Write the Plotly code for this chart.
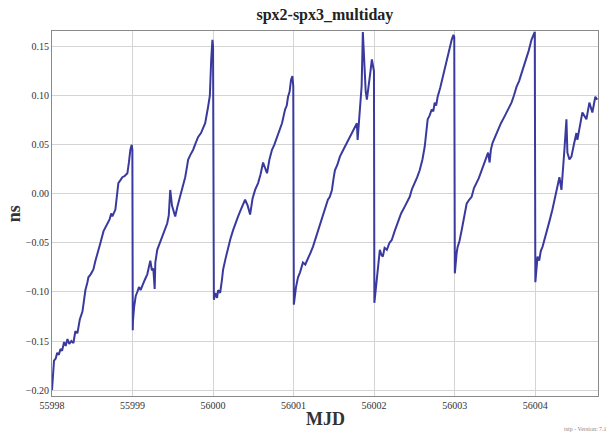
import plotly.graph_objects as go

# MJD and ns values
mjd = [
    55998.000, 55998.010, 55998.025, 55998.045, 55998.065, 55998.085, 55998.105, 55998.125,
    55998.150, 55998.170, 55998.192, 55998.215, 55998.240, 55998.266, 55998.290, 55998.316,
    55998.345, 55998.378, 55998.400, 55998.415, 55998.440, 55998.452, 55998.480, 55998.514,
    55998.540, 55998.570, 55998.601, 55998.640, 55998.688, 55998.715, 55998.735, 55998.750,
    55998.787, 55998.805, 55998.824, 55998.850, 55998.874, 55998.900, 55998.936, 55998.955,
    55998.973, 55998.990, 55998.998, 55999.003,
    55999.005, 55999.020, 55999.040, 55999.059, 55999.080, 55999.100, 55999.121, 55999.150,
    55999.183, 55999.205, 55999.221, 55999.240, 55999.258, 55999.275, 55999.283, 55999.307,
    55999.340, 55999.369, 55999.400, 55999.431, 55999.450, 55999.468, 55999.490, 55999.530,
    55999.560, 55999.592, 55999.625, 55999.654, 55999.675, 55999.691, 55999.720, 55999.753,
    55999.785, 55999.815, 55999.850, 55999.880, 55999.902, 55999.939, 55999.960, 55999.977,
    55999.992, 56000.000, 56000.004,
    56000.010, 56000.030, 56000.050, 56000.063, 56000.088, 56000.110, 56000.125, 56000.155,
    56000.187, 56000.215, 56000.249, 56000.280, 56000.311, 56000.350, 56000.380, 56000.398,
    56000.430, 56000.460, 56000.490, 56000.522, 56000.559, 56000.590, 56000.621, 56000.645,
    56000.670, 56000.700, 56000.732, 56000.760, 56000.794, 56000.825, 56000.856, 56000.894,
    56000.915, 56000.931, 56000.950, 56000.968, 56000.985, 56000.996, 56001.003,
    56001.010, 56001.030, 56001.055, 56001.080, 56001.116, 56001.145, 56001.178, 56001.210,
    56001.240, 56001.270, 56001.302, 56001.330, 56001.364, 56001.395, 56001.426, 56001.450,
    56001.476, 56001.495, 56001.513, 56001.545, 56001.575, 56001.605, 56001.637, 56001.680,
    56001.724, 56001.755, 56001.786, 56001.795, 56001.810, 56001.823, 56001.845, 56001.860,
    56001.875, 56001.895, 56001.910, 56001.935, 56001.955, 56001.972, 56001.985, 56001.998,
    56002.003,
    56002.010, 56002.020, 56002.034, 56002.050, 56002.071, 56002.090, 56002.108, 56002.130,
    56002.158, 56002.190, 56002.219, 56002.255, 56002.294, 56002.335, 56002.380, 56002.410,
    56002.442, 56002.470, 56002.504, 56002.535, 56002.566, 56002.600, 56002.628, 56002.645,
    56002.665, 56002.690, 56002.715, 56002.735, 56002.752, 56002.770, 56002.789, 56002.820,
    56002.851, 56002.880, 56002.913, 56002.940, 56002.963, 56002.985, 56002.995, 56003.002,
    56003.010, 56003.025, 56003.037, 56003.060, 56003.087, 56003.110, 56003.130, 56003.149,
    56003.180, 56003.211, 56003.240, 56003.273, 56003.300, 56003.335, 56003.365, 56003.397,
    56003.415, 56003.434, 56003.450, 56003.471, 56003.500, 56003.533, 56003.575, 56003.620,
    56003.660, 56003.706, 56003.735, 56003.768, 56003.800, 56003.830, 56003.860, 56003.892,
    56003.920, 56003.954, 56003.980, 56003.995, 56004.002,
    56004.010, 56004.029, 56004.050, 56004.070, 56004.091, 56004.120, 56004.152, 56004.180,
    56004.214, 56004.245, 56004.276, 56004.301, 56004.326, 56004.345, 56004.363, 56004.388,
    56004.400, 56004.425, 56004.450, 56004.480, 56004.512, 56004.524, 56004.555, 56004.586,
    56004.636, 56004.673, 56004.710, 56004.747, 56004.770,
]

ns = [
    -0.200, -0.185, -0.170, -0.168, -0.162, -0.164, -0.158, -0.160,
    -0.151, -0.155, -0.148, -0.153, -0.150, -0.152, -0.140, -0.142,
    -0.128, -0.120, -0.104, -0.098, -0.090, -0.085, -0.082, -0.077,
    -0.068, -0.058, -0.050, -0.038, -0.030, -0.026, -0.020, -0.023,
    -0.016, -0.002, 0.011, 0.014, 0.017, 0.018, 0.021, 0.032,
    0.045, 0.050, 0.045, -0.139,
    -0.130, -0.115, -0.104, -0.100, -0.095, -0.098, -0.093, -0.088,
    -0.082, -0.074, -0.068, -0.078, -0.076, -0.097, -0.070, -0.057,
    -0.050, -0.044, -0.036, -0.030, -0.022, 0.004, -0.012, -0.023,
    -0.012, -0.003, 0.008, 0.017, 0.027, 0.035, 0.040, 0.045,
    0.052, 0.058, 0.062, 0.068, 0.072, 0.089, 0.100, 0.137,
    0.157, 0.150, -0.100,
    -0.108, -0.101, -0.106, -0.098, -0.101, -0.088, -0.077, -0.066,
    -0.054, -0.046, -0.037, -0.029, -0.023, -0.015, -0.010, -0.006,
    -0.012, -0.021, -0.005, 0.004, 0.011, 0.020, 0.032, 0.026,
    0.021, 0.035, 0.045, 0.050, 0.058, 0.066, 0.072, 0.086,
    0.090, 0.099, 0.104, 0.116, 0.120, 0.110, -0.113,
    -0.108, -0.095, -0.085, -0.080, -0.070, -0.072, -0.065, -0.060,
    -0.054, -0.046, -0.037, -0.031, -0.023, -0.014, -0.006, -0.003,
    0.004, 0.015, 0.024, 0.030, 0.038, 0.043, 0.048, 0.055,
    0.062, 0.066, 0.072, 0.055, 0.075, 0.086, 0.110, 0.165,
    0.130, 0.105, 0.096, 0.110, 0.125, 0.137, 0.130, 0.125,
    -0.111,
    -0.105, -0.095, -0.085, -0.068, -0.057, -0.062, -0.064, -0.055,
    -0.057, -0.050, -0.047, -0.038, -0.030, -0.020, -0.013, -0.008,
    -0.003, 0.005, 0.011, 0.017, 0.024, 0.035, 0.048, 0.062,
    0.076, 0.080, 0.086, 0.084, 0.093, 0.090, 0.099, 0.108,
    0.119, 0.128, 0.140, 0.148, 0.157, 0.162, 0.160, -0.081,
    -0.070, -0.060, -0.054, -0.048, -0.037, -0.028, -0.020, -0.010,
    -0.006, -0.003, 0.006, 0.011, 0.016, 0.024, 0.030, 0.038,
    0.042, 0.032, 0.045, 0.052, 0.058, 0.065, 0.072, 0.079,
    0.086, 0.093, 0.100, 0.109, 0.115, 0.123, 0.130, 0.137,
    0.146, 0.157, 0.163, 0.165, -0.090,
    -0.080, -0.064, -0.068, -0.058, -0.054, -0.046, -0.037, -0.027,
    -0.016, -0.005, 0.007, 0.017, 0.004, 0.030, 0.045, 0.076,
    0.042, 0.035, 0.038, 0.050, 0.062, 0.055, 0.070, 0.083,
    0.076, 0.093, 0.083, 0.099, 0.096,
]

x_ticks = [55998, 55999, 56000, 56001, 56002, 56003, 56004]
y_ticks = [-0.20, -0.15, -0.10, -0.05, 0.00, 0.05, 0.10, 0.15]

serif = "Liberation Serif, Times New Roman, DejaVu Serif, serif"

fig = go.Figure()
fig.add_trace(go.Scatter(
    x=mjd, y=ns, mode="lines",
    line=dict(color="#3a3a9e", width=2),
    showlegend=False,
))

fig.update_layout(
    width=613, height=434,
    margin=dict(l=52, r=15, t=31, b=38),
    paper_bgcolor="white", plot_bgcolor="white",
    title=dict(text="<b>spx2-spx3_multiday</b>", x=0.53, xanchor="center",
               y=1 - 14 / 434, yanchor="middle",
               font=dict(family=serif, size=16, color="#222")),
    xaxis=dict(
        range=[55998, 56004.78], tickvals=x_ticks,
        ticktext=[str(v) for v in x_ticks],
        showgrid=True, gridcolor="#d4d4d4", gridwidth=1,
        showline=True, linecolor="#8a8a8a", linewidth=1, mirror=True,
        ticks="", zeroline=False, automargin=False,
        tickfont=dict(family=serif, size=10, color="#333"),
    ),
    yaxis=dict(
        range=[-0.206, 0.166], tickvals=y_ticks, tickformat=".2f",
        showgrid=True, gridcolor="#d4d4d4", gridwidth=1,
        showline=True, linecolor="#8a8a8a", linewidth=1, mirror=True,
        ticks="", zeroline=False, automargin=False,
        tickfont=dict(family=serif, size=10, color="#333"),
    ),
)

fig.add_annotation(
    text="<b>MJD</b>", xref="paper", yref="paper", x=0.5, y=-0.062,
    xanchor="center", yanchor="middle", showarrow=False,
    font=dict(family=serif, size=18, color="#333"),
)
fig.add_annotation(
    text="<b>ns</b>", xref="paper", yref="paper", x=-0.07, y=0.5,
    xanchor="center", yanchor="middle", showarrow=False, textangle=-90,
    font=dict(family=serif, size=18, color="#333"),
)
fig.add_annotation(
    text="tstp - Version: 7.1", xref="paper", yref="paper",
    x=1.0, y=-0.09, xanchor="left", yanchor="middle", xshift=-36,
    showarrow=False, font=dict(family=serif, size=6, color="#888"),
)

fig.write_html("out.html")
